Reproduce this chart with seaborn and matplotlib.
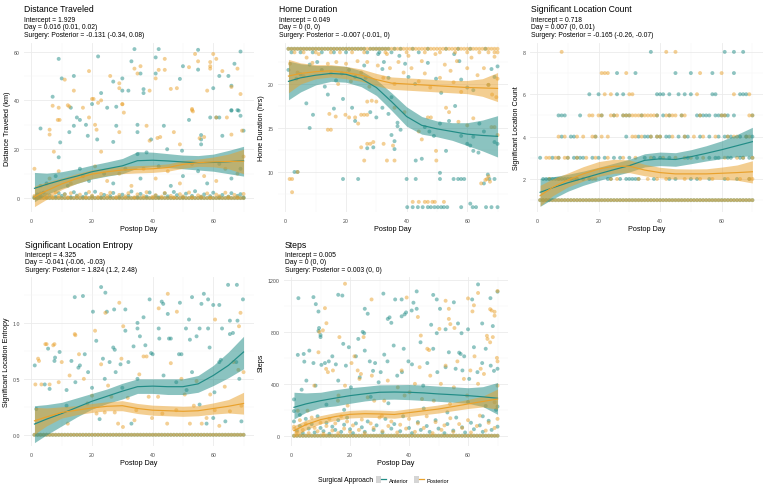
import numpy as np
import pandas as pd
import matplotlib
matplotlib.use("Agg")
import matplotlib.pyplot as plt
import seaborn as sns
from matplotlib.lines import Line2D
from matplotlib.patches import Patch
from matplotlib.legend_handler import HandlerTuple
from matplotlib.ticker import FormatStrFormatter

# ---------------- data ----------------
groups = ["Anterior", "Posterior"]
all_days = [1, 2, 3, 4, 5, 6, 7, 8, 9, 10, 11, 12, 13, 14, 15, 16, 17, 18, 19, 20,
            21, 22, 23, 24, 25, 26, 27, 28, 29, 30, 31, 32, 33, 34, 35, 36, 37, 38, 39, 40,
            41, 42, 43, 44, 45, 46, 47, 48, 49, 50, 51, 52, 53, 54, 55, 56, 57, 58, 59, 60,
            61, 62, 63, 64, 65, 66, 67, 68, 69, 70]
fit_days = [1, 5, 10, 15, 20, 25, 30, 35, 40, 45, 50, 55, 60, 65, 70]

titles = ["Distance Traveled", "Home Duration", "Significant Location Count",
          "Significant Location Entropy", "Steps"]
subtitles = [
    ["Intercept = 1.929", "Day = 0.016 (0.01, 0.02)", "Surgery: Posterior = -0.131 (-0.34, 0.08)"],
    ["Intercept = 0.049", "Day = 0 (0, 0)", "Surgery: Posterior = -0.007 (-0.01, 0)"],
    ["Intercept = 0.718", "Day = 0.007 (0, 0.01)", "Surgery: Posterior = -0.165 (-0.26, -0.07)"],
    ["Intercept = 4.325", "Day = -0.041 (-0.06, -0.03)", "Surgery: Posterior = 1.824 (1.2, 2.48)"],
    ["Intercept = 0.005", "Day = 0 (0, 0)", "Surgery: Posterior = 0.003 (0, 0)"],
]
ylabels = ["Distance Traveled (km)", "Home Duration (hrs)", "Significant Location Count",
           "Significant Location Entropy", "Steps"]

# Distance traveled
dist_ant = [(9,57),(10,49),(14,50),(22,58),(23,43),(7,41.5),(13,37),(27,47.7),(30,49),(30,44),(32,44),
            (33,56),(34,61),(36,51),(37,44.6),(37,43),(28,37.4),(41,51),(41,57.6),(42,61),(49,48.8),(50,54),
            (55,52.6),(55,60.7),(65,50),(66,46),(67,55),(69,60),(60,45),(62,50),(66,36),(68,36),
            (3,28.5),(9.5,22.8),(9,16.7),(12.5,27),(14,29.6),(15,33),(16,32),(18,30),(18.6,25.5),(20,38.5),
            (21.7,24),(25,37),(27,23),(28,29.6),(35,30),(35,27),(35,18),(38,18.7),(39.5,24),(43.7,29.6),
            (44.8,20),(49.7,19.4),(52,32),(56,25.8),(56,24),(56,22),(59,33),(61,33),(62,33),(63,25.5),
            (66,35.8),(68.4,35.8),(69,33.7),(70,27.6),
            (5,6),(8,9),(12,5),(16,12),(19,7),(24,10),(27,6),(31,12),(36,8),(42,13),(46,5),(50,9),(55,11),
            (58,6),(62,14),(66,8),(69,12)]
dist_post = [(11,48.5),(14,44),(19,52),(20,40.6),(23,40),(26,50),(29,47),(29,45),(30,38.4),(34,53),(35,51),
             (36,54),(39,44),(41,49),(42,52.5),(44,57),(44,52.5),(46,44.7),(48,45),(52,53.6),(53,36.5),(54,59),
             (55,56),(58,44),(59,55.7),(59,54),(59,53),(60,59),(61,57),(63,52),(66,45.5),(68,53),(69,42.6),(9,37),
             (1,12),(6,28),(6,26),(7,37.8),(8.7,32),(9.3,32),(7.4,19),(12,38),(12.5,37.5),(17,37),(19,33),
             (20.5,40.6),(21,30),(21.5,28),(22,39),(23,19),(30,38.5),(30.5,35),(29,27),(38,29.6),(39,23.5),
             (41.6,24.6),(42.5,25),(47,27),(49,22),(53,36),(53.3,35.5),(57,25),(61,33),(64.5,33),(66,26),
             (69.5,27.6),(55.5,24.5),
             (3,5),(6,8),(9,11),(13,6),(17,9),(21,13),(25,7),(29,10),(33,5),(37,12),(41,8),(45,11),(49,6),
             (53,14),(57,9),(61,7),(64,12),(68,10),(70,17)]
dist_ant_low = [(1,0.4),(2,1.5),(3,0.8),(4,2.2),(5,0.3),(6,1.1),(8,0.6),(9,2.0),(10,0.9),(11,1.6),(13,0.4),
                (14,2.4),(15,1.0),(17,0.5),(18,1.8),(20,0.7),(21,2.6),(23,0.3),(24,1.3),(26,0.8),(27,2.1),
                (29,0.5),(30,1.4),(32,0.9),(33,2.7),(35,0.4),(36,1.7),(38,0.6),(39,2.3),(41,1.0),(42,0.3),
                (44,1.9),(45,0.7),(47,2.5),(48,1.2),(50,0.4),(51,1.8),(53,0.9),(54,2.8),(56,0.5),(57,1.5),
                (59,0.8),(60,2.2),(62,0.4),(63,1.3),(65,0.6),(66,2.0),(68,0.9),(69,1.6),(70,0.3)]
dist_post_low = [(1,0.9),(2,0.3),(3,1.9),(4,0.6),(5,1.3),(7,0.4),(8,2.3),(9,0.8),(11,1.5),(12,0.3),(13,2.0),
                 (15,0.7),(16,1.4),(18,0.4),(19,2.5),(20,1.0),(22,0.5),(23,1.7),(25,0.9),(26,2.2),(28,0.4),
                 (29,1.3),(31,0.7),(32,2.0),(34,0.3),(35,1.5),(37,0.8),(38,2.4),(40,0.5),(41,1.2),(43,0.6),
                 (44,2.1),(46,0.9),(47,0.3),(49,1.6),(50,0.7),(52,2.3),(53,0.4),(55,1.1),(56,0.6),(58,1.9),
                 (59,0.3),(61,1.4),(62,0.8),(64,2.2),(65,0.5),(67,1.3),(68,0.4),(70,1.7)]
dist_floor = 0.0
dist_fit_ant = [4.0, 5.6, 7.4, 9.0, 10.8, 12.0, 13.2, 15.3, 15.5, 15.2, 14.8, 14.5, 14.6, 14.9, 15.3]
dist_lo_ant = [-1.5, 1.5, 4.0, 6.0, 7.8, 9.0, 10.0, 12.3, 12.8, 12.5, 12.0, 11.5, 11.0, 10.0, 9.0]
dist_hi_ant = [10.5, 10.2, 10.8, 12.0, 13.5, 14.8, 16.2, 19.0, 18.8, 18.2, 17.6, 17.4, 18.0, 19.5, 21.2]
dist_fit_post = [0.5, 3.0, 5.8, 8.0, 9.8, 10.8, 11.5, 11.8, 12.0, 12.5, 13.8, 14.5, 14.8, 15.0, 15.1]
dist_lo_post = [-3.5, -0.5, 3.5, 6.0, 8.0, 9.2, 10.0, 10.3, 10.5, 11.0, 12.2, 13.0, 12.8, 12.0, 10.0]
dist_hi_post = [5.0, 6.5, 8.2, 10.0, 11.6, 12.4, 13.0, 13.3, 13.5, 14.0, 15.4, 16.0, 16.8, 18.0, 20.0]

# Home duration
home_ant = [(6.9,17.8),(9.1,16.5),(8,15.0),(3,10.0),(4,10.0),(19,9.2),(24,9.2),(16,17.2),(22,17.3),(23,15.8),
            (28,16.8),(30,16.2),(27,12.7),(29,12.8),(32,17.3),(34,16.6),(36,12.6),(35,14.2),(36,13.5),
            (37,15.2),(37,15.6),(38,14.8),(40,9.2),(43,9.2),(43,11.3),(45,11.5),(46,15.1),(47.5,14.6),
            (49,14.1),(51,15.5),(53,12.4),(51,9.9),(51,9.2),(55.5,9.2),(57,9.2),(58,9.2),(59,9.2),(54,15.8),
            (56,17.5),(58,14.1),(60,13.2),(61,13.0),(62,14.0),(62,12.4),(63.7,12.2),(65.5,8.7),(66.8,9.7),
            (67.3,9.2),(69,9.2),(69,13.4),(70,13.2),(65.5,14.6),(64,15.5),
            (40.2,6),(42,6),(43.7,6),(45.3,6),(47,6),(48,6),(49.2,6),(50.3,6),(51.4,6),(52.3,6),(53.4,6),
            (58,6),(61.8,6),(62.9,6),(66.2,6),(68,6),(70,6),(61,6.4),
            (1,21.6),(3.6,20.6),(5,21.1),(8,22.2),(10.5,22.5),(12,21.6),(13,19.7),(14,18.8),(16.7,20.4),
            (18.6,21.2),(19,18.3),(21,21.6),(23,20.8),(26,22.1),(26.5,20.7),(30.6,23.4),(32.5,22.5),
            (32,21.7),(34,20.7),(35,18.5),(37.6,23.2),(39.5,22.3),(40.6,20.8),(42.8,20),(47,22.4),
            (49.7,20.6),(51.4,19),(55.7,23.4),(57.4,22.6),(58,20.5),(60,19.6),(62,19.3),(67,19.9),
            (68,21.7),(69,20.8),(70,22.0)]
home_post = [(1.4,9.2),(2.2,9.2),(2.2,7.7),(4,10.0),(14,14.8),(15,14.8),(14.5,16.6),(16.6,16.3),(19.8,16.5),
             (21,16.2),(23,16.2),(24,15.5),(25,16.5),(26,16.5),(27,16.5),(25,12.8),(26,11.3),(27,13.2),
             (28,13.2),(29,13.4),(27,18),(28.5,18.1),(30,18),(32.4,13.2),(33.5,11.3),(35.5,13),(36,11.3),
             (36,17.3),(39.3,16.8),(44,14.6),(45,13.7),(47,16.2),(48,16.2),(49.7,12.4),(49.8,11.3),(53,17.3),
             (54,16.8),(57.1,15.7),(60,15.3),(62,16.1),(64.6,8.7),(66,9.1),(66.5,9.2),(67,9.5),(67.5,8.9),
             (68,15.1),(69,15.1),(70,14.2),
             (42,6.6),(44,6.6),(46,6.6),(47,6.6),(48.5,6.6),(49.3,6.6),(52.3,6.6),
             (1.5,22.3),(4,21.3),(6,20.9),(7,23),(8.9,22.4),(11,23.4),(14,22.3),(15,21.2),(16.8,22.5),
             (17.4,20),(20,22.3),(21.6,20.3),(23.8,22.6),(25,21.3),(27,22.5),(27.7,19.7),(30.5,22.1),
             (32.3,20.7),(33.5,23.4),(34.5,21.8),(36,20),(37.3,22.5),(39,21.3),(40.6,23.2),(41.6,21.8),
             (44,20.3),(45,22.6),(46,21.2),(47.8,19.6),(49.5,23.4),(51,20.7),(52.6,22.2),(54.5,21.5),
             (55.5,20.2),(56.6,22.6),(58,19.1),(60,21.8),(61.4,23),(63.4,21),(65.5,21.8),(67,19.9),
             (68.2,18.8),(69,23.1),(69.6,18.5),(70,20.6)]
home_top = 24.0
home_top2 = 23.6
home_ant_top_days = [1, 2, 3, 4, 5, 6, 7, 8, 9, 10, 11, 12, 13, 14, 15, 16, 17, 18, 19, 20, 21, 22, 23, 24,
                     25, 26, 28, 29, 30, 31, 32, 33, 34, 36, 38, 42, 47, 53, 57, 61, 66]
home_ant_top2_days = [2, 5, 9, 12, 16, 20, 27, 31, 35, 44]
home_post_top2_days = [3, 6, 10, 15, 18, 22, 26, 33, 40, 46, 51, 56, 60, 64, 67, 69, 70]
home_fit_ant = [20.3, 20.7, 21.0, 21.2, 21.1, 20.6, 19.6, 18.0, 16.3, 15.3, 14.9, 14.6, 14.3, 14.15, 14.05]
home_lo_ant = [18.2, 19.1, 19.9, 20.3, 20.2, 19.7, 18.7, 17.0, 15.2, 14.3, 14.0, 13.6, 13.0, 12.4, 11.7]
home_hi_ant = [22.6, 22.3, 22.1, 22.1, 22.0, 21.5, 20.5, 19.0, 17.4, 16.3, 15.8, 15.6, 15.6, 15.9, 16.4]
home_fit_post = [20.9, 21.2, 21.4, 21.5, 21.3, 21.0, 20.5, 20.1, 20.0, 19.9, 19.8, 19.7, 19.6, 19.55, 19.5]
home_lo_post = [19.0, 20.0, 20.6, 20.8, 20.6, 20.3, 19.8, 19.4, 19.3, 19.2, 19.1, 19.0, 18.9, 18.6, 18.0]
home_hi_post = [22.8, 22.4, 22.2, 22.2, 22.0, 21.7, 21.2, 20.8, 20.7, 20.6, 20.5, 20.4, 20.4, 20.6, 21.3]

# Significant location count (days with each count)
cnt_ant_2 = [2,3,4,5,6,7,8,9,10,11,12,13,15,17,23,24,27,29,30,31,32,33,38,43,45,50,52,56,61,65,69]
cnt_ant_3 = [1,5,7,10,12,13,14,15,18,20,22,25,27,30,35,38,40,43,49,52,56,58,59,62,63,66,67,69,70]
cnt_ant_4 = [8,11,12,19,29,33,35,36,37,39,40,42,43,46,48,49,53,56,59,61,62,63,66,68,70]
cnt_ant_5 = [7,8,9,14,21,25,28,29,30,34,39,41,43,47,52,53,54,55,56,58,59,60,61,62,64,70]
cnt_ant_6 = [17,20,26,28,39,40,41,43,46,48,50,57,58,66,67,68]
cnt_ant_7 = [26,32,45,50,57,64]
cnt_ant_8 = [37,61,64,67]
cnt_post_2 = [4,7,11,13,18,19,24,26,33,36,39,42,48,53,57,62,66,69,70]
cnt_post_3 = [3,4,6,7,9,10,13,16,19,23,28,32,37,41,45,48,50,54,61,65,67,70]
cnt_post_4 = [7,9,13,15,18,19,21,23,31,32,34,37,39,40,44,48,51,54,58,62,64,65,68,69]
cnt_post_5 = [17,18,20,21,24,25,26,28,29,30,31,32,33,34,35,36,37,38,39,42,43,44,45,47,48,53,60,61,69,70]
cnt_post_6 = [22,24,30,31,52,64,69]
cnt_post_7 = [21,22,23,29,53,60]
cnt_post_8 = [8,42,45]
cnt_floor = 1
cnt_fit_ant = [1.37, 1.58, 1.82, 2.03, 2.24, 2.44, 2.63, 2.88, 2.95, 2.92, 3.05, 3.21, 3.38, 3.57, 3.76]
cnt_lo_ant = [0.71, 1.05, 1.42, 1.70, 1.92, 2.14, 2.33, 2.57, 2.63, 2.60, 2.72, 2.85, 2.96, 3.05, 3.10]
cnt_hi_ant = [2.03, 2.10, 2.22, 2.37, 2.55, 2.74, 2.93, 3.19, 3.27, 3.24, 3.38, 3.57, 3.80, 4.10, 4.44]
cnt_fit_post = [1.21, 1.60, 1.95, 2.24, 2.47, 2.60, 2.60, 2.42, 2.30, 2.24, 2.24, 2.24, 2.27, 2.30, 2.34]
cnt_lo_post = [0.72, 1.20, 1.62, 1.90, 2.12, 2.27, 2.30, 2.15, 2.05, 2.00, 2.01, 2.00, 1.98, 1.94, 1.81]
cnt_hi_post = [1.70, 2.00, 2.28, 2.58, 2.82, 2.93, 2.90, 2.69, 2.55, 2.48, 2.47, 2.48, 2.56, 2.66, 2.86]

# Significant location entropy
ent_ant = [(1.1,0.62),(1.6,0.23),(4.4,0.45),(5.5,0.77),(6,0.41),(7.6,0.66),(7.8,0.69),(9.3,0.74),(11.6,0.40),
           (11.6,0.26),(13.2,0.66),(14.5,0.47),(15.5,0.6),(16,0.62),(17.6,0.72),(18.7,0.56),(20,0.42),
           (21.4,0.84),(22.5,0.14),(23.6,0.68),(24.2,0.50),(25.8,0.65),(27,0.78),(27.5,0.76),(27.8,0.56),
           (29.4,0.63),(30,0.42),(31,0.93),(32,0.65),(33,0.10),(33.7,0.79),(35,0.5),(35.8,0.88),(37.6,0.80),
           (39.5,0.73),(40,0.72),(42.2,0.86),(43.6,0.53),(45.4,0.86),(46,0.86),(47.8,0.47),(48.7,0.72),
           (49.5,0.72),(51.2,0.40),(52.3,0.85),(53,0.56),(54.5,0.88),(55.5,0.27),(57.8,0.10),(58.8,0.78),
           (60,0.15),(60.4,0.38),(62,0.65),(62.5,0.67),(64,0.12),(65.5,0.9),(66.5,0.91),(67.6,0.65),
           (68.6,0.50),(69.3,0.12),
           (14.3,1.23),(17,1.24),(23,1.32),(24.4,1.27),(20.3,1.10),(24.9,1.10),(27.3,1.12),(31,1.12),(35,1.0),
           (35,0.95),(37,1.05),(39,1.21),(43,1.19),(43.5,1.17),(45,1.08),(49,1.18),(52,1.03),(53,1.23),
           (56.1,1.17),(56.9,1.26),(58.3,1.21),(60,1.16),(62,1.16),(64.9,1.34),(67.8,1.34),(69.8,1.21),
           (65.5,1.02),(68,1.02),(62.9,0.95),(58.3,0.95),(55.5,0.95),(51,0.95),(42,0.95)]
ent_post = [(1.3,0.45),(2.2,0.68),(2.5,0.66),(3.3,0.45),(4.6,0.81),(5,0.81),(6,0.45),(7.2,0.8),(7.6,0.81),
            (9,0.47),(10,0.65),(12,0.1),(12.6,0.53),(14.5,0.89),(15.7,0.72),(17.3,0.5),(18.5,0.28),(20,0.35),
            (21.5,0.19),(23,0.63),(24.2,0.2),(25.3,0.44),(26.4,0.34),(27.5,0.2),(28.6,0.1),(29.7,0.68),
            (30.2,0.07),(31.8,0.33),(34,0.13),(34.6,0.22),(35.6,0.54),(37,0.7),(38,0.7),(38.7,0.34),
            (39.8,0.15),(41.8,0.34),(43.2,0.19),(44.8,0.10),(46,0.64),(47.8,0.22),(49.5,0.5),(50.6,0.36),
            (52.3,0.10),(53.6,0.26),(54.5,0.48),(56.2,0.10),(57.8,0.15),(59,0.36),(60.5,0.22),(62,0.08),
            (63.8,0.43),(65.5,0.21),(66.7,0.65),(68.3,0.58),(69.3,0.26),(70,0.56),
            (14.3,0.9),(21,0.93),(24.4,1.09),(29,1.18),(30.3,0.97),(42,1.13),(45,1.26),(48,1.1),(60.6,1.03),
            (69,1.09),(68.5,0.97)]
ent_floor = 0.0
ent_fit_ant = [0.096, 0.14, 0.19, 0.245, 0.30, 0.345, 0.39, 0.43, 0.435, 0.43, 0.43, 0.455, 0.53, 0.62, 0.74]
ent_lo_ant = [-0.07, 0.0, 0.08, 0.16, 0.23, 0.28, 0.32, 0.37, 0.37, 0.36, 0.36, 0.38, 0.44, 0.51, 0.59]
ent_hi_ant = [0.26, 0.27, 0.29, 0.33, 0.37, 0.41, 0.46, 0.50, 0.50, 0.50, 0.50, 0.53, 0.62, 0.74, 0.88]
ent_fit_post = [0.125, 0.16, 0.20, 0.22, 0.24, 0.255, 0.26, 0.235, 0.22, 0.215, 0.21, 0.215, 0.235, 0.255, 0.28]
ent_lo_post = [0.005, 0.08, 0.15, 0.18, 0.20, 0.215, 0.215, 0.19, 0.175, 0.17, 0.165, 0.17, 0.185, 0.195, 0.185]
ent_hi_post = [0.245, 0.24, 0.25, 0.26, 0.28, 0.295, 0.305, 0.28, 0.265, 0.26, 0.255, 0.26, 0.285, 0.315, 0.38]

# Steps
steps_ant = [(2.5,1060),(7.6,1068),(8.4,1014),(9.3,957),(9.3,808),(9.5,830),(10,776),(10,760),(16,1086),
             (17.4,1080),(25,978),(26,940),(31.3,1095),(32.8,900),(33.4,912),(34,870),(35.3,1050),(37.5,1050),
             (37.5,920),(38.5,935),(39,950),(40.9,965),(41.5,1025),(42.6,1112),(42.6,978),(48.2,1085),
             (49.4,1050),(50.5,978),(47.5,855),(49.4,790),(52.4,820),(55.2,1028),(56.6,865),(57.8,790),
             (60,820),(61.4,1050),(63.4,1166),(64.8,865),(67.6,1060),(68.4,845),(70,1110),
             (1,280),(1,190),(2.3,623),(3.6,355),(4.3,630),(4.5,571),(5.2,425),(6.2,656),(7.6,560),(8.3,386),
             (10.3,546),(11.5,560),(12.8,573),(14,612),(15.2,550),(16,425),(17.7,708),(18.6,540),(19.6,682),
             (20.3,373),(22,612),(22.8,746),(23.3,450),(24.3,800),(24.8,790),(25,656),(26.7,573),(27.8,500),
             (28.5,560),(29.7,412),(30.4,490),(31.6,625),(32.7,573),(34.8,695),(36,463),(37.6,490),(38.2,670),
             (39.8,573),(41,550),(43.9,720),(44.8,386),(46.2,560),(48.2,670),(49.6,490),(52.4,528),(53.5,643),
             (55.8,516),(57,640),(57.5,630),(58.1,503),(58.7,612),(60.4,438),(62,682),(63.2,490),(64.8,560),
             (66,670),(67.7,540),(68.8,500),(70,516),(70,225),(69.5,200),(65,150),
             (3,160),(12,240),(18,200),(27,300),(33,250),(45,210),(53,180),(60,260),(66,230)]
steps_post = [(12,867),(11.5,983),(18.3,1171),(27.3,1050),(39.2,1065),(43,915),(44,772),(52.4,1040),
              (53.5,978),(53.5,900),(54,860),(55.4,830),(60,1058),(61.5,958),(62,1005),(63.4,1100),(67.5,975),
              (68,965),(69,955),(69,925),(70,1115),(66.4,770),
              (1,52),(2.3,193),(5.6,193),(7.9,386),(9.3,643),(9.6,800),(10.8,812),(11.9,515),(12.5,490),
              (14.2,503),(15.9,270),(16.1,310),(16.4,760),(18.3,386),(19.2,232),(20.5,560),(21.5,612),
              (22.6,503),(23.2,438),(23.7,476),(24.6,760),(26,296),(27.4,463),(28.2,270),(30.8,155),(31.6,270),
              (32.8,425),(36.2,373),(37.5,503),(38.5,310),(40.2,335),(42,400),(43.6,528),(44.4,283),(46.2,670),
              (46.8,660),(47.2,463),(48.4,270),(50.3,823),(50.8,400),(52.4,540),(53.9,245),(55.2,373),
              (56.4,573),(58.6,438),(59.7,310),(60.8,503),(62.2,612),(63.4,400),(64.3,516),(65.4,476),
              (66.6,746),(67.5,720),(68.4,760),(69,258),(69.8,600),(70,573),(70,386)]
steps_ant_low = [(1,110),(2,40),(3,75),(4,20),(5,130),(6,55),(7,90),(8,25),(9,150),(10,60),(11,35),(12,100),
                 (13,15),(14,70),(15,45),(16,120),(17,30),(18,85),(19,140),(20,50),(21,20),(22,95),(24,65),
                 (25,30),(26,110),(28,45),(29,80),(31,25),(32,130),(34,55),(35,90),(37,35),(38,150),(40,60),
                 (41,20),(43,105),(44,45),(46,75),(47,30),(49,120),(50,55),(52,20),(53,90),(55,40),(56,140),
                 (58,65),(59,25),(61,100),(62,50),(64,80),(65,30),(67,115),(68,45),(70,70)]
steps_post_low = [(1,70),(2,25),(3,120),(4,45),(5,90),(6,20),(7,140),(8,60),(9,35),(10,100),(11,15),(12,75),
                  (13,130),(14,40),(15,95),(16,20),(17,150),(18,55),(19,110),(20,30),(21,80),(23,45),(24,125),
                  (25,20),(27,95),(28,60),(30,140),(31,35),(33,75),(34,110),(36,25),(37,85),(39,55),(40,130),
                  (42,30),(43,95),(45,60),(46,150),(48,20),(49,105),(51,45),(52,80),(54,135),(55,30),(57,90),
                  (58,60),(60,120),(61,25),(63,75),(64,155),(66,40),(67,100),(69,60),(70,130)]
steps_floor = 0
steps_fit_ant = [219, 245, 270, 290, 309, 323, 335, 337, 335, 330, 322, 316, 309, 300, 289]
steps_lo_ant = [129, 180, 218, 230, 250, 268, 280, 282, 278, 272, 265, 258, 250, 225, 165]
steps_hi_ant = [335, 330, 335, 355, 370, 380, 392, 393, 395, 390, 382, 377, 370, 378, 410]
steps_fit_post = [39, 85, 124, 148, 165, 170, 168, 164, 178, 192, 206, 225, 245, 264, 283]
steps_lo_post = [-12, 45, 92, 118, 137, 142, 140, 135, 148, 162, 175, 193, 210, 222, 205]
steps_hi_post = [77, 120, 155, 178, 195, 200, 197, 193, 208, 222, 237, 257, 280, 305, 360]

# ---------------- styling ----------------
ANT = "#218C86"
POST = "#E9A12C"
pal = {"Anterior": ANT, "Posterior": POST}
FONT = "Liberation Sans"
plt.rcParams["font.family"] = [FONT, "DejaVu Sans"]

W, H = 767, 489
fig = plt.figure(figsize=(W / 100, H / 100), dpi=100)
fig.patch.set_facecolor("white")


def add_ax(l, r, t, b):
    return fig.add_axes([l / W, 1 - b / H, (r - l) / W, (b - t) / H])


def pts_frame(ant_pts, post_pts):
    rows = [(d, v, "Anterior") for d, v in ant_pts] + [(d, v, "Posterior") for d, v in post_pts]
    return pd.DataFrame(rows, columns=["day", "value", "group"])


def draw(ax, df, fits):
    sns.scatterplot(data=df, x="day", y="value", hue="group", palette=pal, s=8, alpha=0.5,
                    linewidth=0, legend=False, ax=ax, zorder=2)
    for g, (fit, lo, hi) in zip(groups, fits):
        fdf = pd.DataFrame({"day": fit_days, "fit": fit, "lo": lo, "hi": hi})
        ax.fill_between(fdf["day"], fdf["lo"], fdf["hi"], color=pal[g], alpha=0.52, lw=0, zorder=3)
        sns.lineplot(data=fdf, x="day", y="fit", color=pal[g], lw=0.85, ax=ax, zorder=4)


def style(ax, ylim, yticks, yminor, ylabel, fmt=None):
    ax.set_facecolor("white")
    ax.set_xlim(-2.45, 73.45)
    ax.set_ylim(*ylim)
    ax.set_xticks([0, 20, 40, 60])
    ax.set_xticks([10, 30, 50, 70], minor=True)
    ax.set_yticks(yticks)
    ax.set_yticks(yminor, minor=True)
    if fmt:
        ax.yaxis.set_major_formatter(FormatStrFormatter(fmt))
    ax.grid(which="major", color="#EBEBEB", lw=0.6)
    ax.grid(which="minor", color="#F4F4F4", lw=0.35)
    ax.set_axisbelow(True)
    for s in ax.spines.values():
        s.set_visible(False)
    ax.tick_params(which="both", length=0, labelsize=3.8, labelcolor="#4D4D4D")
    ax.tick_params(axis="x", pad=4)
    ax.tick_params(axis="y", pad=3)
    ax.set_xlabel("Postop Day", fontsize=5.2, labelpad=2)
    ax.set_ylabel(ylabel, fontsize=5.2, labelpad=2)


def titles_at(x, y, i):
    fig.text(x / W, 1 - y / H, titles[i], fontsize=6.2, va="center", ha="left", color="black")
    for k, line in enumerate(subtitles[i]):
        fig.text(x / W, 1 - (y + 10.5 + 7.4 * k) / H, line, fontsize=4.9, va="center", ha="left")


def zero_band(days, value):
    return [(d, value) for d in days]


# Panel 1: Distance
ax1 = add_ax(24, 254, 44, 213)
df1 = pts_frame(dist_ant + dist_ant_low + zero_band(all_days, dist_floor),
                dist_post + dist_post_low + zero_band(all_days, dist_floor))
draw(ax1, df1, [(dist_fit_ant, dist_lo_ant, dist_hi_ant), (dist_fit_post, dist_lo_post, dist_hi_post)])
style(ax1, (-5.7, 63.5), [0, 20, 40, 60], [10, 30, 50], ylabels[0])
titles_at(24, 10, 0)

# Panel 2: Home duration
ax2 = add_ax(278, 508, 44, 213)
df2 = pts_frame(home_ant + zero_band(home_ant_top_days, home_top) + zero_band(home_ant_top2_days, home_top2),
                home_post + zero_band(all_days, home_top) + zero_band(home_post_top2_days, home_top2))
draw(ax2, df2, [(home_fit_ant, home_lo_ant, home_hi_ant), (home_fit_post, home_lo_post, home_hi_post)])
style(ax2, (5.45, 24.66), [10, 15, 20], [7.5, 12.5, 17.5, 22.5], ylabels[1])
titles_at(279, 10, 1)

# Panel 3: Location count
ax3 = add_ax(529.5, 763, 44, 213)
cnt_ant = (zero_band(all_days, cnt_floor) + zero_band(cnt_ant_2, 2) + zero_band(cnt_ant_3, 3)
           + zero_band(cnt_ant_4, 4) + zero_band(cnt_ant_5, 5) + zero_band(cnt_ant_6, 6)
           + zero_band(cnt_ant_7, 7) + zero_band(cnt_ant_8, 8))
cnt_post = (zero_band(all_days, cnt_floor) + zero_band(cnt_post_2, 2) + zero_band(cnt_post_3, 3)
            + zero_band(cnt_post_4, 4) + zero_band(cnt_post_5, 5) + zero_band(cnt_post_6, 6)
            + zero_band(cnt_post_7, 7) + zero_band(cnt_post_8, 8))
df3 = pts_frame(cnt_ant, cnt_post)
draw(ax3, df3, [(cnt_fit_ant, cnt_lo_ant, cnt_hi_ant), (cnt_fit_post, cnt_lo_post, cnt_hi_post)])
style(ax3, (0.44, 8.42), [2, 4, 6, 8], [1, 3, 5, 7], ylabels[2])
titles_at(530.7, 10, 2)

# Panel 4: Entropy
ax4 = add_ax(24, 254, 278, 447)
df4 = pts_frame(ent_ant + zero_band(all_days, ent_floor), ent_post + zero_band(all_days, ent_floor))
draw(ax4, df4, [(ent_fit_ant, ent_lo_ant, ent_hi_ant), (ent_fit_post, ent_lo_post, ent_hi_post)])
style(ax4, (-0.10, 1.41), [0, 0.5, 1.0], [0.25, 0.75, 1.25], ylabels[3], fmt="%.1f")
titles_at(25, 245, 3)

# Panel 5: Steps
ax5 = add_ax(283.8, 507.7, 278, 447)
df5 = pts_frame(steps_ant + steps_ant_low + zero_band(all_days, steps_floor),
                steps_post + steps_post_low + zero_band(all_days, steps_floor))
draw(ax5, df5, [(steps_fit_ant, steps_lo_ant, steps_hi_ant), (steps_fit_post, steps_lo_post, steps_hi_post)])
style(ax5, (-79, 1223), [0, 400, 800, 1200], [200, 600, 1000], ylabels[4])
titles_at(285, 245, 4)

# Legend
fig.text(318 / W, 1 - 480.7 / H, "Surgical Approach", fontsize=4.9, va="center", ha="left")
handles = [(Patch(facecolor="#D5D5D5", edgecolor="none"), Line2D([], [], color=pal[g], lw=0.9)) for g in groups]
fig.legend(handles=handles, labels=groups, handler_map={tuple: HandlerTuple(ndivide=None, pad=0)},
           loc="center left", bbox_to_anchor=(376 / W, 1 - 480.7 / H), ncol=2, frameon=False,
           fontsize=4.1, handlelength=1.8, handleheight=1.6, columnspacing=0.9, handletextpad=0.5,
           borderpad=0, borderaxespad=0)

fig.savefig("out.png", dpi=100, facecolor="white")
